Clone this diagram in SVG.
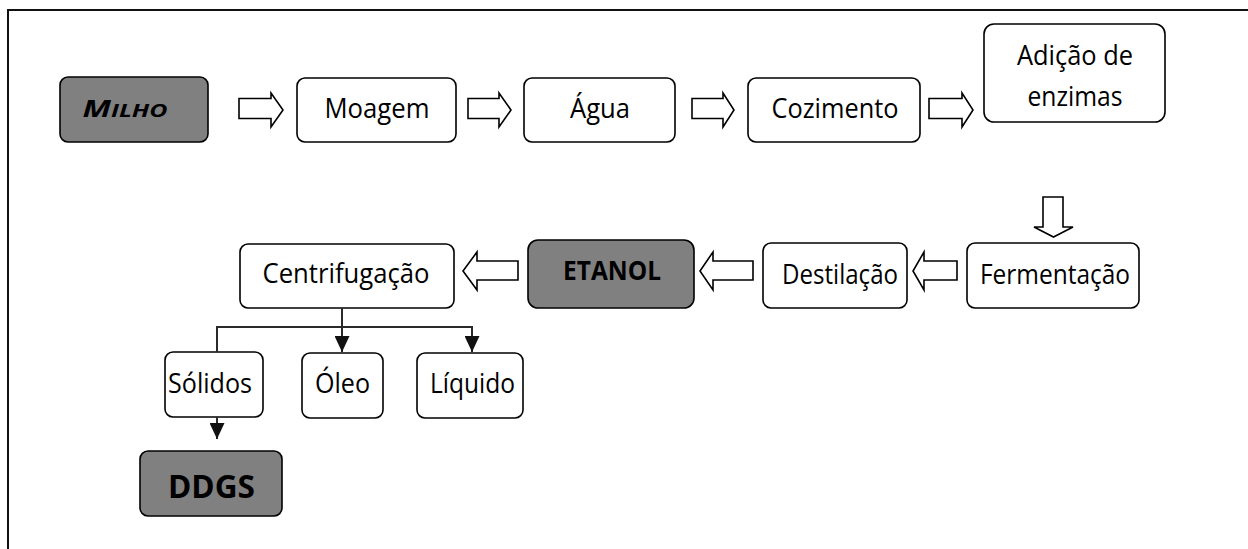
<svg xmlns="http://www.w3.org/2000/svg" width="1248" height="549" viewBox="0 0 1248 549">
<style>
.box{fill:#fff;stroke:#000;stroke-width:1.6}
.dark{fill:#808080;stroke:#000;stroke-width:1.6}
.t{font-family:"Open Sans","Liberation Sans",sans-serif;fill:#000;text-anchor:middle}
.r{font-size:26.5px}
.b{font-weight:bold}
.blk{fill:#fff;stroke:#000;stroke-width:1.6;stroke-linejoin:miter}
.con{fill:none;stroke:#2a2a2a;stroke-width:2}
</style>
<defs>
<marker id="ah" viewBox="0 0 10 10" refX="10" refY="5" markerWidth="16" markerHeight="15" markerUnits="userSpaceOnUse" orient="auto" preserveAspectRatio="none">
<path d="M0,0 L10,5 L0,10 Z" fill="#111"/>
</marker>
</defs>
<rect width="1248" height="549" fill="#fff"/>
<g id="frame"><path d="M8,549 V10 H1248" fill="none" stroke="#111" stroke-width="2"/></g>

<g id="milho"><rect class="dark" x="60" y="77" width="148" height="65" rx="8"/>
<text class="t b" x="125" y="117" font-style="italic" textLength="85" lengthAdjust="spacingAndGlyphs"><tspan style="font-size:24px">M</tspan><tspan style="font-size:18.5px">ILHO</tspan></text></g>
<g id="moagem"><rect class="box" x="297" y="78" width="159" height="64" rx="8"/><text class="t r" x="377" y="118" textLength="105" lengthAdjust="spacingAndGlyphs">Moagem</text></g>
<g id="agua"><rect class="box" x="524" y="78" width="151" height="64" rx="8"/><text class="t r" x="600" y="118" textLength="60" lengthAdjust="spacingAndGlyphs">Água</text></g>
<g id="cozimento"><rect class="box" x="748" y="78" width="172" height="64" rx="8"/><text class="t r" x="835" y="118" textLength="127" lengthAdjust="spacingAndGlyphs">Cozimento</text></g>
<g id="adicao"><rect class="box" x="984" y="24" width="181" height="98" rx="10"/><text class="t r" x="1075" y="65" textLength="116" lengthAdjust="spacingAndGlyphs">Adição de</text><text class="t r" x="1075" y="106" textLength="95" lengthAdjust="spacingAndGlyphs">enzimas</text></g>
<g id="fermentacao"><rect class="box" x="967" y="243" width="172" height="65" rx="8"/><text class="t r" x="1055" y="284" textLength="150" lengthAdjust="spacingAndGlyphs">Fermentação</text></g>
<g id="destilacao"><rect class="box" x="763" y="243" width="144" height="65" rx="8"/><text class="t r" x="840" y="284" textLength="116" lengthAdjust="spacingAndGlyphs">Destilação</text></g>
<g id="etanol"><rect class="dark" x="528" y="240" width="166" height="68" rx="10"/><text class="t b" x="612" y="280" style="font-size:26px" textLength="98" lengthAdjust="spacingAndGlyphs">ETANOL</text></g>
<g id="centrifugacao"><rect class="box" x="240" y="244" width="214" height="64" rx="8"/><text class="t r" x="346" y="283" textLength="167" lengthAdjust="spacingAndGlyphs">Centrifugação</text></g>
<g id="solidos"><rect class="box" x="165" y="352" width="98" height="65" rx="8"/><text class="t r" x="210" y="393" textLength="84" lengthAdjust="spacingAndGlyphs">Sólidos</text></g>
<g id="oleo"><rect class="box" x="302" y="353" width="81" height="65" rx="8"/><text class="t r" x="342.5" y="393" textLength="55" lengthAdjust="spacingAndGlyphs">Óleo</text></g>
<g id="liquido"><rect class="box" x="417" y="353" width="106" height="65" rx="8"/><text class="t r" x="472.5" y="393" textLength="85" lengthAdjust="spacingAndGlyphs">Líquido</text></g>
<g id="ddgs"><rect class="dark" x="140" y="451" width="142" height="65" rx="8"/><text class="t b" x="211.5" y="498" style="font-size:32px" textLength="87" lengthAdjust="spacingAndGlyphs">DDGS</text></g>

<g id="connectors">
<path class="blk" d="M239,98.5 H271 V93 L283,110 L271,127 V118.5 H239 Z"/>
<path class="blk" d="M468,98.5 H499 V93 L511,110 L499,127 V118.5 H468 Z"/>
<path class="blk" d="M692,98.5 H723 V93 L734,110 L723,127 V118.5 H692 Z"/>
<path class="blk" d="M929,98.5 H962 V93 L973,110 L962,127 V118.5 H929 Z"/>
<path class="blk" d="M1043,197 H1063 V227 H1073 L1053.5,237 L1034,227 H1043 Z"/>
<path class="blk" d="M957,261 H924 V252 L913,271 L924,290 V280 H957 Z"/>
<path class="blk" d="M753,261 H713 V252 L700,271 L713,290 V280 H753 Z"/>
<path class="blk" d="M518,261 H477 V252 L463,271 L477,290 V280 H518 Z"/>
<path class="con" d="M342,308 V352" marker-end="url(#ah)"/>
<path class="con" d="M217,352 V327 H472 V352" marker-end="url(#ah)"/>
<path class="con" d="M217,417 V439" marker-end="url(#ah)"/>
</g>
</svg>
